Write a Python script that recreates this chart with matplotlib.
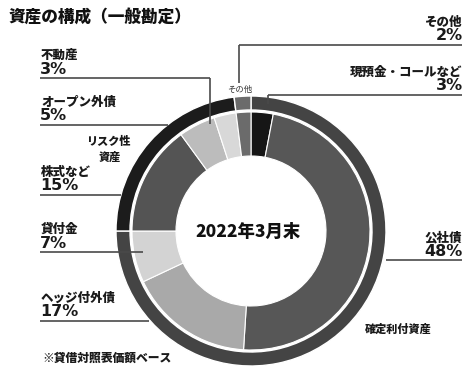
import matplotlib.pyplot as plt

plt.rcParams['font.family'] = ['Noto Sans CJK JP', 'DejaVu Sans']

W, H = 465, 369

# inner ring, clockwise from 12 o'clock
assets = ['現預金・コールなど', '公社債', 'ヘッジ付外債', '貸付金',
          '株式など', 'オープン外債', '不動産', 'その他']
shares = [3, 48, 17, 7, 15, 5, 3, 2]
asset_colors = ['#161616', '#575757', '#a9a9a9', '#d3d3d3',
                '#545454', '#bcbcbc', '#d8d8d8', '#6b6b6b']

# outer ring: asset groups
groups = ['確定利付資産', 'リスク性資産', 'その他']
group_shares = [75, 23, 2]
group_colors = ['#444444', '#1c1c1c', '#6b6b6b']

fig = plt.figure(figsize=(W / 100, H / 100), dpi=100)
ax = fig.add_axes([0, 0, 1, 1])


def Y(y):
    # work in pixel rows measured from the top
    return H - y


cx, cy = 251, Y(231)
ax.pie(shares, radius=119, center=(cx, cy), colors=asset_colors,
       startangle=90, counterclock=False,
       wedgeprops=dict(width=44, edgecolor='white', linewidth=0.8))
ax.pie(group_shares, radius=135, center=(cx, cy), colors=group_colors,
       startangle=90, counterclock=False,
       wedgeprops=dict(width=14, edgecolor='white', linewidth=1.0))
ax.set_xlim(0, W)
ax.set_ylim(0, H)
ax.set_aspect('equal')
ax.axis('off')

line_kw = dict(color='#4a4a4a', lw=1.2, solid_capstyle='butt')
name_kw = dict(fontsize=9, fontweight='black', color='#1a1a1a', va='center')
pct_kw = dict(fontsize=11.5, fontweight='bold', color='#1a1a1a', va='center',
              family=['DejaVu Sans'])

# left-hand labels: (name index, underline row, line end x)
left = [(6, 78, 210), (5, 125, 168), (4, 195, 121), (3, 252, 143), (2, 321, 149)]
for i, ly, x_end in left:
    ax.text(41, Y(ly - 23), assets[i], ha='left', **name_kw)
    ax.text(40, Y(ly - 9), f'{shares[i]}%', ha='left', **pct_kw)
    ax.plot([40, x_end], [Y(ly), Y(ly)], **line_kw)
# 不動産 drops down to the ring
ax.plot([210, 210], [Y(78), Y(124)], **line_kw)

# right-hand labels
right = [(7, 45), (0, 95), (1, 260)]
for i, ly in right:
    ax.text(462, Y(ly - 23), assets[i], ha='right', **name_kw)
    ax.text(463, Y(ly - 9), f'{shares[i]}%', ha='right', **pct_kw)
ax.plot([239, 462], [Y(45), Y(45)], **line_kw)
ax.plot([239, 239], [Y(45), Y(83)], **line_kw)
ax.plot([268, 462], [Y(95), Y(95)], **line_kw)
ax.plot([268, 268], [Y(95), Y(104)], **line_kw)
ax.plot([386, 462], [Y(260), Y(260)], **line_kw)

ax.text(240, Y(89), 'その他', ha='center', va='center', fontsize=6,
        color='#333333')

# group labels for the outer ring
ax.text(108, Y(141), 'リスク性', ha='center', va='center', fontsize=8,
        fontweight='black', color='#1a1a1a')
ax.text(110, Y(157), '資産', ha='center', va='center', fontsize=8,
        fontweight='black', color='#1a1a1a')
ax.text(398, Y(329), groups[0], ha='center', va='center', fontsize=8,
        fontweight='black', color='#1a1a1a')

ax.text(cx - 3, Y(232), '2022年3月末', ha='center', va='center', fontsize=12.5,
        fontweight='black', color='#111111')

ax.text(9, Y(17), '資産の構成（一般勘定）', ha='left', va='center', fontsize=12,
        fontweight='black', color='#111111')
ax.text(42, Y(358), '※貸借対照表価額ベース', ha='left', va='center',
        fontsize=8.5, fontweight='black', color='#1a1a1a')

fig.savefig('out.png', dpi=100)
